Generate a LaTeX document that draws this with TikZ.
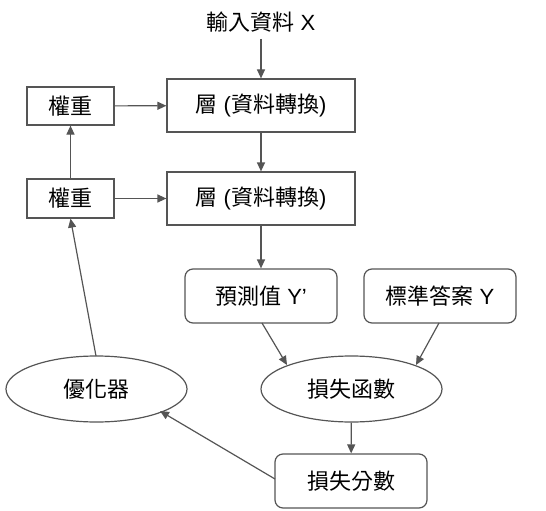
\documentclass[tikz,border=0pt]{standalone}
\usepackage{fontspec}
\setmainfont{Liberation Sans}
\newfontfamily\cjk{Noto Sans CJK TC}
\usetikzlibrary{shapes.geometric,arrows.meta}
\definecolor{ln}{HTML}{555555}
\tikzset{
  every node/.style={font=\fontsize{22}{24}\selectfont, text=black},
  sqbox/.style={draw=ln, line width=1.2pt, rectangle, minimum width=#1, inner sep=0pt},
  rbox/.style={draw=ln, line width=1.2pt, rectangle, rounded corners=8pt, minimum width=152pt, minimum height=54pt, inner sep=0pt},
  ell/.style={draw=ln, line width=1.2pt, ellipse, minimum width=181pt, minimum height=66pt, inner sep=0pt},
  arr/.style={draw=ln, line width=1.2pt, -{Triangle[length=9pt,width=8pt]}},
}
\begin{document}
\begin{tikzpicture}[x=1pt,y=-1pt]
\useasboundingbox (0,0) rectangle (546,511);
\node (in) at (261,22) {{\cjk 輸入資料} X};
\node[sqbox=188pt, minimum height=53pt] (l1) at (261,105.5) {{\cjk 層} ({\cjk 資料轉換})};
\node[sqbox=188pt, minimum height=53pt] (l2) at (261,198.5) {{\cjk 層} ({\cjk 資料轉換})};
\node[sqbox=87pt, minimum height=38pt] (w1) at (70.5,106) {\cjk 權重};
\node[sqbox=87pt, minimum height=39pt] (w2) at (70.5,198.5) {\cjk 權重};
\node[rbox] (pred) at (261,296) {{\cjk 預測值} Y'};
\node[rbox] (true) at (440,296) {{\cjk 標準答案} Y};
\node[ell] (loss) at (351.5,389) {\cjk 損失函數};
\node[ell] (opt) at (96.5,389) {\cjk 優化器};
\node[rbox] (score) at (351,481) {\cjk 損失分數};
\coordinate (inb) at (261,39);
\draw[arr] (inb) -- (l1.north);
\draw[arr] (w1) -- (l1);
\draw[arr] (w2) -- (l2);
\draw[arr] (l1) -- (l2);
\draw[arr] (w2) -- (w1);
\draw[arr] (l2) -- (pred);
\coordinate (pa) at (262,323);
\coordinate (pb) at (287,365);
\coordinate (ta) at (439,323);
\coordinate (tb) at (416,365);
\draw[arr] (pa) -- (pb);
\draw[arr] (ta) -- (tb);
\draw[arr] (loss) -- (score);
\coordinate (sa) at (275,479);
\coordinate (ob) at (160,411);
\draw[arr] (sa) -- (ob);
\coordinate (oa) at (96,356);
\draw[arr] (oa) -- (w2.south);
\end{tikzpicture}
\end{document}
